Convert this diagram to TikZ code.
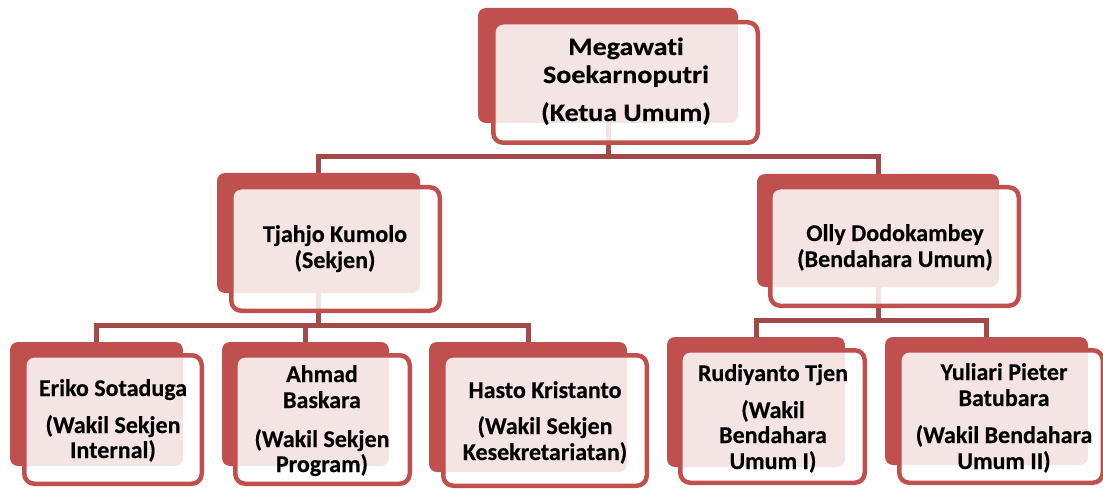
\documentclass[tikz,border=0pt]{standalone}
\usepackage{fontspec}
\setmainfont{Carlito}[Ligatures=NoCommon, FakeBold=0.4]
\newfontfamily\topfont{Carlito}[Ligatures=NoCommon, FakeStretch=1.12, FakeBold=0.4]
\definecolor{boxred}{HTML}{C0504D}
\definecolor{connred}{HTML}{A24A48}
\pgfdeclarelayer{bg}
\pgfsetlayers{bg,main}
\tikzset{
  backbox/.style={fill=boxred, rounded corners=8pt, inner sep=0pt, outer sep=0pt},
  frontbox/.style={draw=boxred, line width=4.5pt, fill=white, fill opacity=0.85, rounded corners=10pt, inner sep=0pt, outer sep=0pt},
  conn/.style={draw=connred, line width=5pt},
  txt/.style={align=center, anchor=base, inner sep=0pt, text=black},
  big/.style={font=\topfont\bfseries\fontsize{25}{28}\selectfont},
  mid/.style={font=\bfseries\fontsize{24}{26}\selectfont},
  small/.style={font=\bfseries\fontsize{24}{25}\selectfont},
}
\newcommand\orgbox[9]{%
  \node[backbox, minimum width={#4-#2}, minimum height={#5-#3}] (#1b) at ({(#2+#4)/2},{(#3+#5)/2}) {};
  \node[frontbox, minimum width={#8-#6-4.5}, minimum height={#9-#7-4.5}] (#1f) at ({(#6+#8)/2},{(#7+#9)/2}) {};
}
\begin{document}
\begin{tikzpicture}[x=1pt,y=-1pt]
\begin{pgfonlayer}{bg}
\fill[white] (0,0) rectangle (1103,489);
\end{pgfonlayer}
\useasboundingbox (0,0) rectangle (1103,489);
% boxes
\orgbox{mega}{478}{8}{738}{123}{491}{20}{760}{145}
\orgbox{tk}{217}{173}{420}{293}{229}{185}{442}{313}
\orgbox{olly}{757}{174}{999}{287}{768}{185}{1021}{308}
\orgbox{eriko}{10}{342}{183}{466}{22}{353}{204}{486}
\orgbox{ahmad}{222}{342}{389}{466}{233}{353}{412}{486}
\orgbox{hasto}{429}{342}{627}{472}{441}{353}{649}{488}
\orgbox{rudi}{667}{337}{845}{467}{678}{348}{867}{485}
\orgbox{yuli}{885}{337}{1088}{465}{897}{348}{1105}{485}
% connectors (behind the boxes)
\begin{pgfonlayer}{bg}
\draw[conn] (megab.south) -- ++(0,34) coordinate (j1);
\draw[conn] (tkb.north) |- (j1) -| (ollyb.north);
\draw[conn] (tkb.south) -- ++(0,32) coordinate (j2);
\draw[conn] (erikob.north) |- (j2) -| (hastob.north);
\draw[conn] (ahmadb.north) -- (ahmadb.north |- j2);
\draw[conn] (ollyb.south) -- ++(0,33) coordinate (j3);
\draw[conn] (rudib.north) |- (j3) -| (yulib.north);
\end{pgfonlayer}
% texts (anchored at the baseline of the last line)
\node[txt, big] (megat) at (626,121) {Megawati\\Soekarnoputri\\[10pt](Ketua Umum)};
\node[txt, mid] (tkt) at (335,268) {Tjahjo Kumolo\\(Sekjen)};
\node[txt, mid] (ollyt) at (895,267) {Olly Dodokambey\\(Bendahara Umum)};
\node[txt, small] (erikot) at (113,458) {Eriko Sotaduga\\[12pt](Wakil Sekjen\\Internal)};
\node[txt, small] (ahmadt) at (322,472) {Ahmad\\[1pt]Baskara\\[14pt](Wakil Sekjen\\Program)};
\node[txt, small] (hastot) at (545,460) {Hasto Kristanto\\[11pt](Wakil Sekjen\\[1pt]Kesekretariatan)};
\node[txt, small] (rudit) at (773,469) {Rudiyanto Tjen\\[12pt](Wakil\\Bendahara\\[1pt]Umum I)};
\node[txt, small] (yulit) at (1004,469) {Yuliari Pieter\\[1pt]Batubara\\[12pt](Wakil Bendahara\\[1pt]Umum II)};
\end{tikzpicture}
\end{document}
